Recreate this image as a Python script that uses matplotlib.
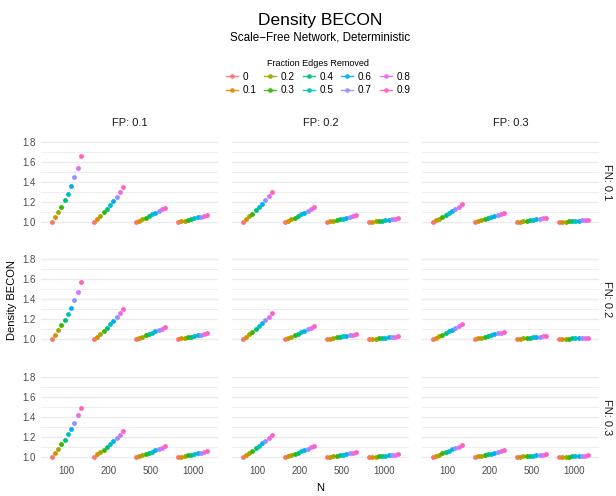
import numpy as np
import matplotlib.pyplot as plt
from matplotlib.lines import Line2D

plt.rcParams['font.family'] = ['Liberation Sans', 'DejaVu Sans']

# ---------------------------------------------------------
# data
# ---------------------------------------------------------
n_labels = ["100", "200", "500", "1000"]
fractions = ["0", "0.1", "0.2", "0.3", "0.4", "0.5", "0.6", "0.7", "0.8", "0.9"]
fp_levels = ["0.1", "0.2", "0.3"]
fn_levels = ["0.1", "0.2", "0.3"]

colors = ["#F8766D", "#D89000", "#A3A500", "#39B600", "#00BF7D",
          "#00BFC4", "#00B0F6", "#9590FF", "#E76BF3", "#FF62BC"]

# FN 0.1 -> FP 0.1 / 0.2 / 0.3 -> N 100 / 200 / 500 / 1000
fn01_fp01 = [
    [1.000, 1.046, 1.099, 1.152, 1.218, 1.284, 1.364, 1.450, 1.545, 1.658],
    [1.000, 1.030, 1.063, 1.096, 1.132, 1.172, 1.212, 1.255, 1.301, 1.347],
    [1.000, 1.014, 1.029, 1.044, 1.060, 1.076, 1.092, 1.109, 1.127, 1.145],
    [1.000, 1.007, 1.015, 1.023, 1.031, 1.039, 1.047, 1.055, 1.064, 1.073],
]
fn01_fp02 = [
    [1.000, 1.030, 1.059, 1.085, 1.118, 1.151, 1.184, 1.220, 1.259, 1.305],
    [1.000, 1.014, 1.029, 1.044, 1.060, 1.076, 1.093, 1.111, 1.132, 1.154],
    [1.000, 1.006, 1.013, 1.020, 1.027, 1.034, 1.042, 1.049, 1.057, 1.066],
    [1.000, 1.003, 1.007, 1.011, 1.015, 1.019, 1.023, 1.027, 1.031, 1.036],
]
fn01_fp03 = [
    [1.000, 1.017, 1.035, 1.053, 1.073, 1.093, 1.113, 1.134, 1.155, 1.177],
    [1.000, 1.009, 1.018, 1.028, 1.038, 1.048, 1.059, 1.070, 1.082, 1.095],
    [1.000, 1.004, 1.008, 1.013, 1.017, 1.022, 1.027, 1.032, 1.037, 1.043],
    [1.000, 1.002, 1.004, 1.007, 1.009, 1.011, 1.014, 1.017, 1.020, 1.023],
]

fn02_fp01 = [
    [1.000, 1.036, 1.088, 1.137, 1.192, 1.250, 1.315, 1.393, 1.475, 1.566],
    [1.000, 1.023, 1.052, 1.081, 1.111, 1.146, 1.185, 1.218, 1.257, 1.296],
    [1.000, 1.012, 1.024, 1.037, 1.050, 1.063, 1.076, 1.090, 1.105, 1.120],
    [1.000, 1.006, 1.012, 1.018, 1.024, 1.031, 1.038, 1.044, 1.051, 1.059],
]
fn02_fp02 = [
    [1.000, 1.025, 1.049, 1.075, 1.103, 1.132, 1.162, 1.193, 1.224, 1.256],
    [1.000, 1.012, 1.025, 1.038, 1.052, 1.066, 1.081, 1.097, 1.114, 1.131],
    [1.000, 1.005, 1.010, 1.016, 1.022, 1.028, 1.033, 1.039, 1.045, 1.052],
    [1.000, 1.003, 1.005, 1.008, 1.011, 1.014, 1.017, 1.020, 1.023, 1.026],
]
fn02_fp03 = [
    [1.000, 1.014, 1.029, 1.044, 1.060, 1.076, 1.093, 1.111, 1.129, 1.148],
    [1.000, 1.007, 1.014, 1.022, 1.030, 1.038, 1.047, 1.056, 1.065, 1.075],
    [1.000, 1.003, 1.006, 1.009, 1.012, 1.016, 1.019, 1.022, 1.026, 1.030],
    [1.000, 1.001, 1.003, 1.004, 1.006, 1.007, 1.008, 1.010, 1.011, 1.013],
]

fn03_fp01 = [
    [1.000, 1.042, 1.081, 1.126, 1.175, 1.227, 1.285, 1.340, 1.421, 1.492],
    [1.000, 1.026, 1.052, 1.075, 1.104, 1.133, 1.162, 1.191, 1.224, 1.259],
    [1.000, 1.010, 1.021, 1.032, 1.043, 1.055, 1.067, 1.080, 1.093, 1.107],
    [1.000, 1.005, 1.011, 1.017, 1.023, 1.029, 1.036, 1.043, 1.050, 1.058],
]
fn03_fp02 = [
    [1.000, 1.021, 1.042, 1.064, 1.088, 1.112, 1.137, 1.163, 1.190, 1.217],
    [1.000, 1.010, 1.021, 1.032, 1.044, 1.056, 1.069, 1.083, 1.098, 1.113],
    [1.000, 1.004, 1.009, 1.014, 1.019, 1.025, 1.030, 1.036, 1.042, 1.049],
    [1.000, 1.002, 1.005, 1.008, 1.010, 1.013, 1.016, 1.019, 1.022, 1.026],
]
fn03_fp03 = [
    [1.000, 1.011, 1.023, 1.036, 1.049, 1.062, 1.076, 1.090, 1.105, 1.120],
    [1.000, 1.006, 1.013, 1.020, 1.027, 1.034, 1.042, 1.050, 1.059, 1.068],
    [1.000, 1.003, 1.006, 1.009, 1.012, 1.015, 1.018, 1.021, 1.025, 1.029],
    [1.000, 1.001, 1.003, 1.005, 1.006, 1.008, 1.010, 1.011, 1.013, 1.016],
]

grid_data = [
    [fn01_fp01, fn01_fp02, fn01_fp03],
    [fn02_fp01, fn02_fp02, fn02_fp03],
    [fn03_fp01, fn03_fp02, fn03_fp03],
]

# ---------------------------------------------------------
# figure layout (ggplot-like facet grid)
# ---------------------------------------------------------
W, H = 616, 496
fig = plt.figure(figsize=(W / 100, H / 100), dpi=100)

col_left = [41, 232, 422]
col_w = 177
row_top = [138, 255, 373]
row_h = 87.5

grid_col = "#EBEBEB"
txt_col = "#4D4D4D"
dodge = 0.077

for r in range(3):
    for c in range(3):
        ax = fig.add_axes([col_left[c] / W, 1 - (row_top[r] + row_h) / H,
                           col_w / W, row_h / H])
        ax.set_xlim(0.4, 4.6)
        ax.set_ylim(0.965, 1.84)
        for s in ax.spines.values():
            s.set_visible(False)
        ax.set_yticks([1.0, 1.2, 1.4, 1.6, 1.8])
        ax.set_yticks([1.1, 1.3, 1.5, 1.7], minor=True)
        ax.grid(axis="y", which="major", color=grid_col, lw=1.0)
        ax.grid(axis="y", which="minor", color=grid_col, lw=0.6)
        ax.set_axisbelow(True)
        ax.set_xticks([1, 2, 3, 4])
        ax.tick_params(length=0, labelsize=7, labelcolor=txt_col, pad=4)
        ax.tick_params(which="minor", length=0)
        if c == 0:
            ax.set_yticklabels(["1.0", "1.2", "1.4", "1.6", "1.8"])
        else:
            ax.set_yticklabels([])
        if r == 2:
            ax.set_xticklabels(n_labels)
        else:
            ax.set_xticklabels([])

        panel = grid_data[r][c]
        for k, vals in enumerate(panel):
            for i in range(len(fractions)):
                x = (k + 1) + (i - 4.5) * dodge
                ax.plot([x - 0.03, x + 0.03], [vals[i], vals[i]], color=colors[i],
                        lw=1.0, alpha=0.6, solid_capstyle="butt")
                ax.plot(x, vals[i], "o", color=colors[i], ms=3.5, mec="none")

        if r == 0:
            ax.text(0.5, 1.0 + 10 / row_h, "FP: " + fp_levels[c], transform=ax.transAxes,
                    ha="center", va="bottom", fontsize=8, color="#1A1A1A")
        if c == 2:
            ax.text(1.0 + 8 / col_w, 0.5, "FN: " + fn_levels[r], transform=ax.transAxes,
                    ha="center", va="center", rotation=-90, fontsize=8, color="#1A1A1A")

# titles and axis labels
fig.text(320 / W, 1 - 20 / H, "Density BECON", ha="center", va="center", fontsize=12.5)
fig.text(320 / W, 1 - 38 / H, "Scale\u2212Free Network, Deterministic",
         ha="center", va="center", fontsize=8.4)
fig.text(12 / W, 1 - 300 / H, "Density BECON", ha="center", va="center",
         rotation=90, fontsize=8)
fig.text(320 / W, 1 - 488 / H, "N", ha="center", va="center", fontsize=8)

# legend
handles = [Line2D([0], [0], color=colors[i], lw=1.0, marker="o", ms=3.4,
                  mec="none", alpha=0.9) for i in range(len(fractions))]
fig.legend(handles, fractions, title="Fraction Edges Removed", ncol=5,
           loc="center", bbox_to_anchor=(318 / W, 1 - 77 / H), frameon=False,
           fontsize=7.2, title_fontsize=6.5, handlelength=1.2, handletextpad=0.5,
           columnspacing=0.75, labelspacing=0.35, borderpad=0.2)

plt.savefig("out.png", dpi=100)
